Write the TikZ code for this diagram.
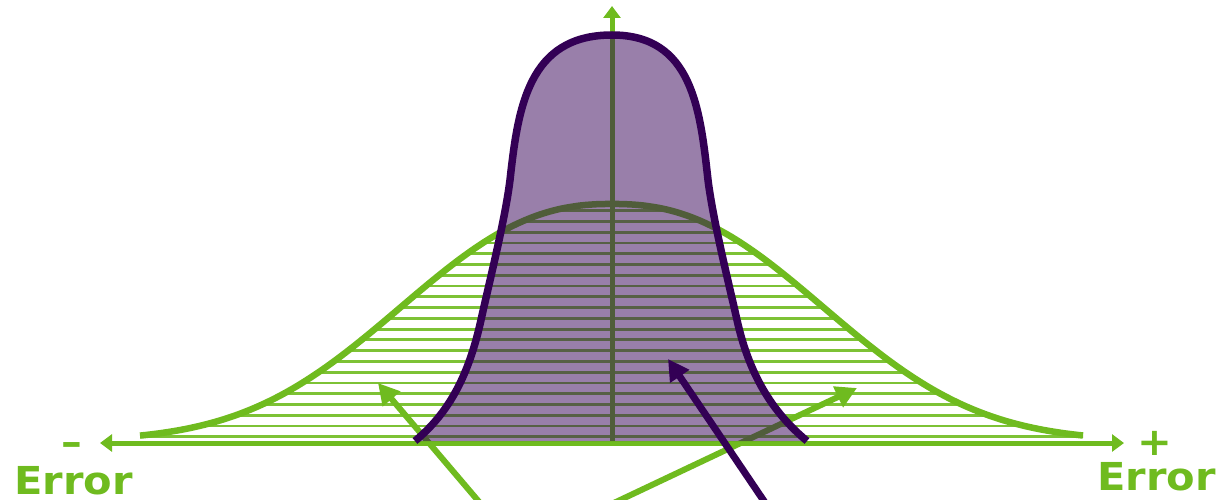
\documentclass[tikz,border=0pt]{standalone}
\usepackage{fontspec}
\newfontfamily\lblfont{DejaVu Sans}[FakeStretch=1.08]
\usetikzlibrary{arrows.meta}
\definecolor{grn}{RGB}{111,187,31}
\definecolor{pur}{RGB}{51,0,85}
\begin{document}
\begin{tikzpicture}[x=1pt,y=-1pt,
  axisline/.style={draw=grn,line width=5pt},
  hatchline/.style={draw=grn!90,line width=2.8pt},
  greencurve/.style={draw=grn,line width=6.5pt},
  purplecurve/.style={draw=pur,line width=7.5pt},
  purplefill/.style={fill=pur,fill opacity=0.5},
  garrow/.style={draw=grn,line width=6pt,-{Triangle[length=21pt,width=22pt]}},
  parrow/.style={draw=pur,line width=7pt,-{Triangle[length=21pt,width=22pt]}},
  lbl/.style={text=grn,font=\lblfont\bfseries\fontsize{38.5}{40}\selectfont,inner sep=0pt,anchor=base,text depth=0pt}
]
\useasboundingbox (0,0) rectangle (1221,500);

\def\greenpath{plot[domain=140:1083,samples=160,smooth] (\x,{441-237*exp(-((abs(\x-612)+0.01)/268)^2.35)})}
\def\purplepath{(415,441) .. controls (450,412) and (469,374) .. (481,320)
  .. controls (490,279) and (505,220) .. (510,180)
  .. controls (518,108) and (528,35) .. (612,35)
  .. controls (692,35) and (700,108) .. (708,180)
  .. controls (713,220) and (728,280) .. (737,320)
  .. controls (749,374) and (772,412) .. (807,441)}

% hatching under the green curve
\begin{scope}
  \clip \greenpath -- (1083,441) -- (140,441) -- cycle;
  \foreach \k in {0,...,21}
    \draw[hatchline] (100,{436.7-\k*10.76}) -- (1120,{436.7-\k*10.76});
\end{scope}

% green curve
\draw[greencurve] \greenpath;

% axes
\coordinate (xl) at (100,443);
\coordinate (xr) at (1124,443);
\coordinate (y0) at (612,443);
\coordinate (yt) at (612,6);
\draw[axisline,{Triangle[length=12pt,width=17pt]}-{Triangle[length=12pt,width=17pt]}] (xl) -- (xr);
\draw[axisline,-{Triangle[length=12pt,width=17pt]}] (y0) -- (yt);

% green arrows
\coordinate (ga1s) at (486,510);
\coordinate (ga1e) at (378,383);
\coordinate (ga2s) at (599,510);
\coordinate (ga2e) at (857,388);
\draw[garrow] (ga1s) -- (ga1e);
\draw[garrow] (ga2s) -- (ga2e);

% purple curve
\fill[purplefill] \purplepath -- cycle;
\draw[purplecurve] \purplepath;

% purple arrow
\coordinate (pas) at (770,510);
\coordinate (pae) at (668,359);
\draw[parrow] (pas) -- (pae);

% labels
\node[lbl] (lsign) at (72,455) {–};
\node[lbl] (lerr) at (73.5,494) {Error};
\node[lbl] (rsign) at (1155,455) {+};
\node[lbl] (rerr) at (1156.5,490) {Error};
\end{tikzpicture}
\end{document}
